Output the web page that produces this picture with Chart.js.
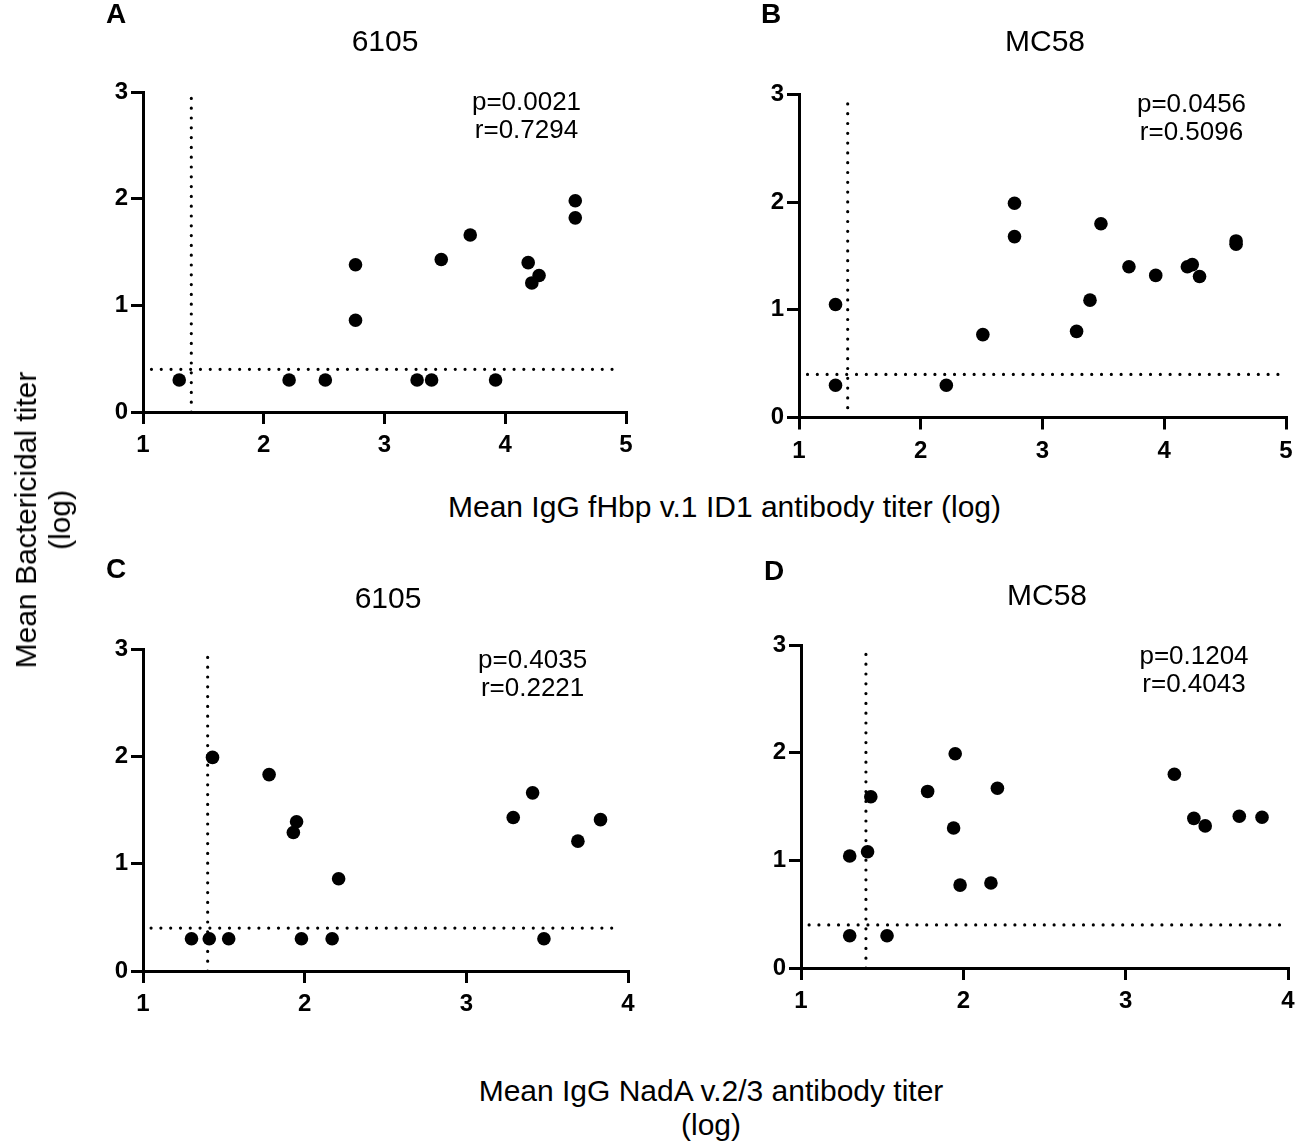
<!DOCTYPE html>
<html>
<head>
<meta charset="utf-8">
<script src="https://cdn.jsdelivr.net/npm/chart.js@4.4.1/dist/chart.umd.min.js"></script>
<style>
  html, body { margin: 0; padding: 0; background: #fff; }
  #page { position: relative; width: 1296px; height: 1144px; background: #fff; overflow: hidden;
          font-family: "Liberation Sans", Arial, sans-serif; color: #000; }
  canvas { position: absolute; }
  .lbl { position: absolute; white-space: nowrap; text-align: center; font-size: 30px; line-height: 34px; }
</style>
</head>
<body>
<div id="page">
  <canvas id="cA"></canvas>
  <canvas id="cB"></canvas>
  <canvas id="cC"></canvas>
  <canvas id="cD"></canvas>
  <div class="lbl" id="yLabel"></div>
  <div class="lbl" id="xLabelTop"></div>
  <div class="lbl" id="xLabelBottom"></div>
</div>
<script>
// ---------------- DATA ----------------
// Panel A: 6105 vs fHbp
const aX = [1.30, 2.21, 2.51, 2.76, 2.76, 3.27, 3.39, 3.47, 3.71, 3.92, 4.19, 4.22, 4.28, 4.58, 4.58];
const aY = [0.30, 0.30, 0.30, 1.38, 0.86, 0.30, 0.30, 1.43, 1.66, 0.30, 1.40, 1.21, 1.28, 1.98, 1.82];
// Panel B: MC58 vs fHbp
const bX = [1.30, 1.30, 2.21, 2.51, 2.77, 2.77, 3.28, 3.39, 3.48, 3.71, 3.93, 4.19, 4.23, 4.29, 4.59, 4.59];
const bY = [1.05, 0.30, 0.30, 0.77, 1.99, 1.68, 0.80, 1.09, 1.80, 1.40, 1.32, 1.40, 1.42, 1.31, 1.64, 1.61];
// Panel C: 6105 vs NadA
const cX = [1.30, 1.41, 1.53, 1.43, 1.78, 1.95, 1.93, 1.98, 2.17, 2.21, 3.29, 3.41, 3.48, 3.69, 3.83];
const cY = [0.30, 0.30, 0.30, 1.99, 1.83, 1.39, 1.29, 0.30, 0.30, 0.86, 1.43, 1.66, 0.30, 1.21, 1.41];
// Panel D: MC58 vs NadA
const dX = [1.30, 1.30, 1.41, 1.43, 1.53, 1.78, 1.94, 1.95, 1.98, 2.17, 2.21, 3.30, 3.42, 3.49, 3.70, 3.84];
const dY = [1.04, 0.30, 1.08, 1.59, 0.30, 1.64, 1.30, 1.99, 0.77, 0.79, 1.67, 1.80, 1.39, 1.32, 1.41, 1.40];

const panelLetters = ["A", "B", "C", "D"];
const strainNames = ["6105", "MC58", "6105", "MC58"];
const pTexts = ["p=0.0021", "p=0.0456", "p=0.4035", "p=0.1204"];
const rTexts = ["r=0.7294", "r=0.5096", "r=0.2221", "r=0.4043"];
const xMaxes = [5, 5, 4, 4];
const yMin = 0, yMax = 3;
const limitX = 1.4;          // vertical dotted threshold
const limitY = 0.4;          // horizontal dotted threshold
const hLineFrom = [1.07, 1.07, 1.05, 1.05];
const hLineTo = [4.94, 4.96, 3.95, 3.97];

const yAxisTitle = ["Mean Bactericidal titer", "(log)"];
const xAxisTitleTop = "Mean IgG fHbp v.1 ID1 antibody titer (log)";
const xAxisTitleBottom = ["Mean IgG NadA v.2/3 antibody titer", "(log)"];

// ---------------- LAYOUT (page px) ----------------
const FONT = '"Liberation Sans", Arial, sans-serif';
Chart.defaults.font.family = FONT;
const layout = [
  { id: "cA", left: 60,  top: 0,   w: 610, h: 470, area: { l: 143, r: 626,  t: 92,  b: 412 },
    letter: [116, 15], title: [385, 43],  pr: [526.5, 102.5] },
  { id: "cB", left: 715, top: 0,   w: 610, h: 470, area: { l: 799, r: 1286, t: 94.5, b: 417.5 },
    letter: [771, 15], title: [1045, 43], pr: [1191.5, 105] },
  { id: "cC", left: 60,  top: 550, w: 610, h: 470, area: { l: 143, r: 628,  t: 649, b: 971 },
    letter: [116, 570], title: [388, 600], pr: [532.6, 661] },
  { id: "cD", left: 715, top: 550, w: 610, h: 470, area: { l: 801, r: 1288, t: 645, b: 968 },
    letter: [774, 572], title: [1047, 597], pr: [1194, 657] }
];
const xs = [aX, bX, cX, dX];
const ys = [aY, bY, cY, dY];

const textPlugin = {
  id: "panelText",
  afterDraw(chart, args, opts) {
    const c = chart.ctx, L = opts.L, i = opts.i;
    c.save();
    c.fillStyle = "#000";
    c.textAlign = "center";
    c.textBaseline = "middle";
    c.font = "bold 28px " + FONT;
    c.fillText(panelLetters[i], L.letter[0] - L.left, L.letter[1] - L.top);
    c.font = "30px " + FONT;
    c.fillText(strainNames[i], L.title[0] - L.left, L.title[1] - L.top);
    c.font = "26px " + FONT;
    c.fillText(pTexts[i], L.pr[0] - L.left, L.pr[1] - L.top);
    c.fillText(rTexts[i], L.pr[0] - L.left, L.pr[1] - L.top + 28);
    c.restore();
  }
};

layout.forEach((L, i) => {
  const cv = document.getElementById(L.id);
  cv.width = L.w; cv.height = L.h;
  cv.style.left = L.left + "px"; cv.style.top = L.top + "px";
  cv.style.width = L.w + "px"; cv.style.height = L.h + "px";
  const yW = L.area.l - L.left;
  const xH = L.top + L.h - L.area.b;
  const pts = xs[i].map((x, k) => ({ x: x, y: ys[i][k] }));
  const dot = {
    type: "line", borderColor: "#000", borderWidth: 3.2, borderDash: [0, 9.8],
    borderCapStyle: "round", pointRadius: 0, fill: false, clip: false, tension: 0
  };
  const tickFont = { family: FONT, size: 24, weight: "bold" };
  new Chart(cv, {
    data: {
      datasets: [
        Object.assign({}, dot, { data: [{ x: limitX, y: yMin }, { x: limitX, y: yMax }] }),
        Object.assign({}, dot, { data: [{ x: hLineFrom[i], y: limitY }, { x: hLineTo[i], y: limitY }] }),
        { type: "scatter", data: pts, pointRadius: 6.8, pointHoverRadius: 6.8,
          backgroundColor: "#000", borderColor: "#000", borderWidth: 0, clip: false }
      ]
    },
    options: {
      responsive: false, animation: false, devicePixelRatio: 1,
      events: [],
      layout: { padding: { left: 0, top: L.area.t - L.top, right: L.left + L.w - L.area.r, bottom: 0 } },
      plugins: { legend: { display: false }, tooltip: { enabled: false }, panelText: { L: L, i: i } },
      scales: {
        x: {
          type: "linear", position: "bottom", min: 1, max: xMaxes[i],
          ticks: { stepSize: 1, color: "#000", padding: 7, font: tickFont },
          grid: { display: true, drawOnChartArea: false, drawTicks: true, tickLength: 12,
                  color: "#000", tickColor: "#000", tickWidth: 3, lineWidth: 3 },
          border: { display: true, color: "#000", width: 3 },
          afterFit(s) { s.height = xH; }
        },
        y: {
          type: "linear", position: "left", min: yMin, max: yMax,
          ticks: { stepSize: 1, color: "#000", padding: 3, font: tickFont },
          grid: { display: true, drawOnChartArea: false, drawTicks: true, tickLength: 12,
                  color: "#000", tickColor: "#000", tickWidth: 3, lineWidth: 3 },
          border: { display: true, color: "#000", width: 3 },
          afterFit(s) { s.width = yW; }
        }
      }
    },
    plugins: [textPlugin]
  });
});

// shared axis titles
const yl = document.getElementById("yLabel");
yl.innerHTML = yAxisTitle.join("<br>");
yl.style.left = "43px"; yl.style.top = "520px";
yl.style.transform = "translate(-50%,-50%) rotate(-90deg)";
const xt = document.getElementById("xLabelTop");
xt.textContent = xAxisTitleTop;
xt.style.left = "724.5px"; xt.style.top = "507px";
xt.style.transform = "translate(-50%,-50%)";
const xb = document.getElementById("xLabelBottom");
xb.innerHTML = xAxisTitleBottom.join("<br>");
xb.style.left = "711px"; xb.style.top = "1108px";
xb.style.transform = "translate(-50%,-50%)";
</script>
</body>
</html>
